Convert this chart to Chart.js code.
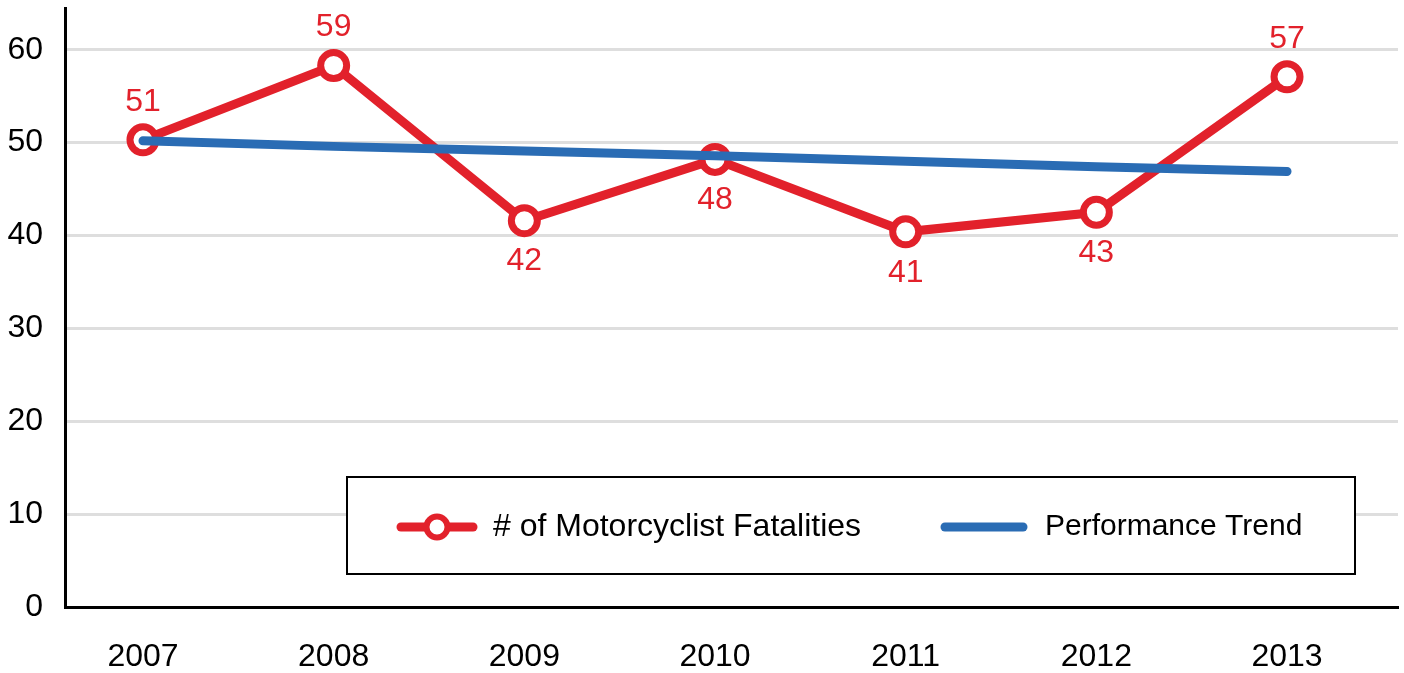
<!DOCTYPE html>
<html>
<head>
<meta charset="utf-8">
<script src="https://cdn.jsdelivr.net/npm/chart.js@4.4.1/dist/chart.umd.min.js"></script>
<style>
  html, body { margin: 0; padding: 0; background: #fff; }
  #wrap { width: 1404px; height: 673px; }
</style>
</head>
<body>
<div id="wrap"><canvas id="chart" width="1404" height="673"></canvas></div>
<script>
// values
const years = [2007, 2008, 2009, 2010, 2011, 2012, 2013];
const fatalities = [50.3, 58.3, 41.6, 48.2, 40.4, 42.5, 57.1];
const fatalityLabels = ['51', '59', '42', '48', '41', '43', '57'];
const labelSide = ['above', 'above', 'below', 'below', 'below', 'below', 'above'];
const trend = [50.2, 49.6, 49.1, 48.6, 48.0, 47.4, 46.9];
const yTicks = [0, 10, 20, 30, 40, 50, 60];

const RED = '#e2212b';
const BLUE = '#2a6cb4';
const FONT = '"Liberation Sans", Arial, sans-serif';

function toPoints(vals) {
    let pts = [];
    for (var i = 0; i < years.length; i++) {
        pts.push({ x: years[i], y: vals[i] });
    }
    return pts;
}

// red numbers next to each point
const valueLabels = {
    id: 'valueLabels',
    afterDatasetsDraw(chart) {
        let ctx = chart.ctx;
        let meta = chart.getDatasetMeta(1);
        ctx.save();
        ctx.font = '32px ' + FONT;
        ctx.fillStyle = RED;
        ctx.textAlign = 'center';
        ctx.textBaseline = 'middle';
        meta.data.forEach(function (pt, i) {
            let dy = labelSide[i] === 'above' ? -38 : 41;
            ctx.fillText(fatalityLabels[i], pt.x, pt.y + dy);
        });
        ctx.restore();
    }
};

// boxed legend sitting inside the plot
const boxLegend = {
    id: 'boxLegend',
    afterDraw(chart) {
        let ctx = chart.ctx;
        let ds = chart.data.datasets;
        ctx.save();
        ctx.fillStyle = '#fff';
        ctx.fillRect(347, 477, 1008, 97);
        ctx.strokeStyle = '#000';
        ctx.lineWidth = 2;
        ctx.strokeRect(347, 477, 1008, 97);

        let cy = 527;
        ctx.lineCap = 'round';
        ctx.lineWidth = 9;
        // fatalities item
        ctx.strokeStyle = ds[1].borderColor;
        ctx.beginPath();
        ctx.moveTo(401, cy);
        ctx.lineTo(473, cy);
        ctx.stroke();
        ctx.beginPath();
        ctx.arc(437, cy, 10.5, 0, Math.PI * 2);
        ctx.fillStyle = '#fff';
        ctx.fill();
        ctx.lineWidth = 6;
        ctx.stroke();
        // trend item
        ctx.lineWidth = 9;
        ctx.strokeStyle = ds[0].borderColor;
        ctx.beginPath();
        ctx.moveTo(945, cy);
        ctx.lineTo(1023, cy);
        ctx.stroke();

        ctx.fillStyle = '#000';
        ctx.textBaseline = 'middle';
        ctx.textAlign = 'left';
        ctx.font = '32px ' + FONT;
        ctx.fillText(ds[1].label, 493, cy);
        ctx.font = '30px ' + FONT;
        ctx.fillText(ds[0].label, 1045, cy);
        ctx.restore();
    }
};

new Chart('chart', {
    type: 'line',
    data: {
        datasets: [
            {
                label: 'Performance Trend',
                data: toPoints(trend),
                borderColor: BLUE,
                borderWidth: 9,
                borderCapStyle: 'round',
                pointRadius: 0,
                fill: false
            },
            {
                label: '# of Motorcyclist Fatalities',
                data: toPoints(fatalities),
                borderColor: RED,
                borderWidth: 9,
                pointRadius: 13,
                pointBorderWidth: 7,
                pointBackgroundColor: '#fff',
                pointBorderColor: RED,
                fill: false
            }
        ]
    },
    options: {
        responsive: false,
        animation: false,
        layout: { autoPadding: false, padding: { top: 8, right: 6, left: 0, bottom: 0 } },
        plugins: {
            legend: { display: false },
            tooltip: { enabled: false }
        },
        scales: {
            x: {
                type: 'linear',
                min: 2006.591,
                max: 2013.582,
                afterBuildTicks: function (axis) {
                    axis.ticks = years.map(function (v) { return { value: v }; });
                },
                afterFit: function (axis) {
                    axis.height = 66;
                    axis.paddingLeft = 0;
                    axis.paddingRight = 0;
                },
                ticks: {
                    color: '#000',
                    padding: 31,
                    font: { family: FONT, size: 32 },
                    callback: function (v) { return String(v); }
                },
                grid: { display: false, drawTicks: false },
                border: { display: true, color: '#000', width: 3 }
            },
            y: {
                min: 0,
                max: 64.5,
                afterBuildTicks: function (axis) {
                    axis.ticks = yTicks.map(function (v) { return { value: v }; });
                },
                afterFit: function (axis) {
                    axis.width = 65;
                    axis.paddingTop = 0;
                    axis.paddingBottom = 0;
                },
                ticks: {
                    color: '#000',
                    padding: 22,
                    font: { family: FONT, size: 32 }
                },
                grid: {
                    drawTicks: false,
                    lineWidth: 3,
                    color: function (c) {
                        return c.tick && c.tick.value === 0 ? 'rgba(0,0,0,0)' : '#dedede';
                    }
                },
                border: { display: true, color: '#000', width: 3 }
            }
        }
    },
    plugins: [valueLabels, boxLegend]
});
</script>
</body>
</html>
